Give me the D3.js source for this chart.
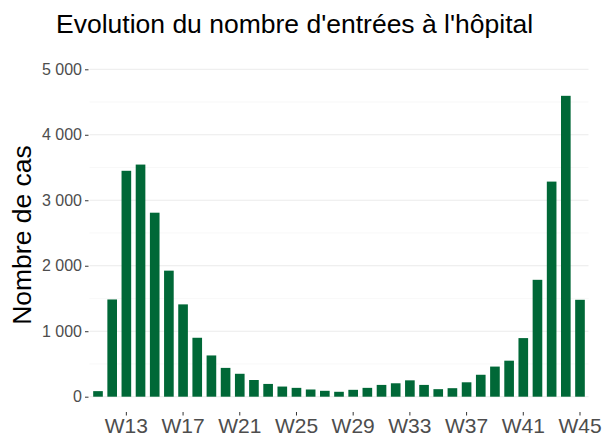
<!DOCTYPE HTML>
<html>
<head>
    <title>Evolution du nombre d'entrées à l'hôpital</title>
    <script type="text/javascript" src="https://cdn.jsdelivr.net/npm/d3@7/dist/d3.min.js"></script>
    <style>
        body { margin: 0; background: white; }
        text { font-family: "Liberation Sans", Arial, sans-serif; }
        .grid-major { stroke: #ebebeb; stroke-width: 1; }
        .grid-minor { stroke: #f4f4f4; stroke-width: 0.6; }
    </style>
</head>
<body>
    <div id="panel"></div>
    <script>
        var width = 605;
        var height = 437;

        // data
        var weeks = ["W11", "W12", "W13", "W14", "W15", "W16", "W17", "W18", "W19", "W20",
                     "W21", "W22", "W23", "W24", "W25", "W26", "W27", "W28", "W29", "W30",
                     "W31", "W32", "W33", "W34", "W35", "W36", "W37", "W38", "W39", "W40",
                     "W41", "W42", "W43", "W44", "W45"];
        var cases = [85, 1485, 3450, 3545, 2810, 1925, 1410, 900, 630, 440,
                     350, 255, 195, 155, 135, 110, 90, 75, 105, 135,
                     180, 205, 250, 180, 115, 130, 220, 335, 460, 550,
                     895, 1785, 3285, 4595, 1480];
        var weekTicks = ["W13", "W17", "W21", "W25", "W29", "W33", "W37", "W41", "W45"];
        var yTicks = [0, 1000, 2000, 3000, 4000, 5000];
        var yMinor = [500, 1500, 2500, 3500, 4500];

        var plot = {left: 89.5, right: 588.5, top: 60, bottom: 412};

        var svg = d3.select("#panel").append("svg")
                    .attr("width", width)
                    .attr("height", height);

        var x = d3.scaleBand()
                  .domain(weeks)
                  .range([plot.left, plot.right])
                  .paddingInner(0.32)
                  .paddingOuter(0.26);

        var y = d3.scaleLinear()
                  .domain([0, 5000])
                  .range([396.7, 69.3]);

        var fmt = function(v) { return d3.format(",")(v).replace(/,/g, " "); };

        // grid
        svg.append("g").selectAll("line").data(yMinor).enter().append("line")
           .attr("class", "grid-minor")
           .attr("x1", plot.left).attr("x2", plot.right)
           .attr("y1", function(d) { return y(d); })
           .attr("y2", function(d) { return y(d); });
        svg.append("g").selectAll("line").data(yTicks).enter().append("line")
           .attr("class", "grid-major")
           .attr("x1", plot.left).attr("x2", plot.right)
           .attr("y1", function(d) { return y(d); })
           .attr("y2", function(d) { return y(d); });

        // bars
        svg.append("g").selectAll("rect").data(weeks).enter().append("rect")
           .attr("x", function(d) { return x(d); })
           .attr("width", x.bandwidth())
           .attr("y", function(d, i) { return y(cases[i]); })
           .attr("height", function(d, i) { return y(0) - y(cases[i]); })
           .attr("fill", "#006837");

        // y axis
        var yAxis = svg.append("g")
                       .attr("transform", "translate(" + (plot.left - 1) + ",0)")
                       .call(d3.axisLeft(y).tickValues(yTicks).tickFormat(fmt)
                               .tickSize(3.5).tickPadding(3));
        yAxis.select(".domain").remove();
        yAxis.selectAll("line").attr("stroke", "#333333");
        yAxis.selectAll("text")
             .attr("fill", "#4d4d4d")
             .style("font-family", "Liberation Sans, Arial, sans-serif")
             .style("font-size", "16px");

        // x axis
        var xAxis = svg.append("g")
                       .attr("transform", "translate(0," + plot.bottom + ")")
                       .call(d3.axisBottom(x).tickValues(weekTicks)
                               .tickSize(3.5).tickPadding(3));
        xAxis.select(".domain").remove();
        xAxis.selectAll("line").attr("stroke", "#333333");
        xAxis.selectAll("text")
             .attr("fill", "#4d4d4d")
             .attr("dy", "0.71em")
             .style("font-family", "Liberation Sans, Arial, sans-serif")
             .style("font-size", "21px");

        // titles
        svg.append("text")
           .attr("x", 56)
           .attr("y", 33.3)
           .attr("fill", "black")
           .style("font-size", "26.5px")
           .text("Evolution du nombre d'entrées à l'hôpital");

        svg.append("text")
           .attr("transform", "translate(31,235) rotate(-90)")
           .attr("text-anchor", "middle")
           .attr("fill", "black")
           .style("font-size", "26.5px")
           .text("Nombre de cas");
    </script>
</body>
</html>
